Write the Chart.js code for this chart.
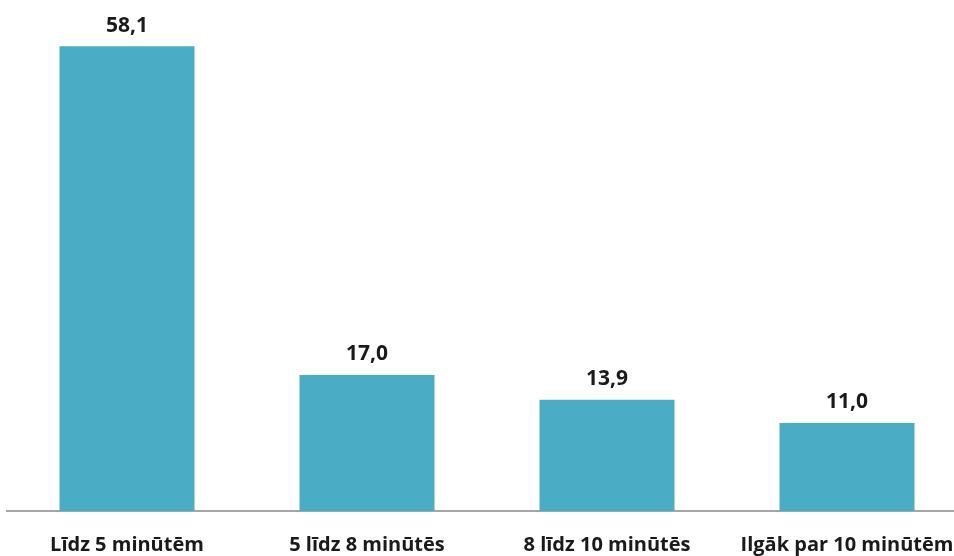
<!DOCTYPE html>
<html>
<head>
<meta charset="utf-8">
<script src="https://cdn.jsdelivr.net/npm/chart.js@4/dist/chart.umd.min.js"></script>
<style>
  html, body { margin: 0; padding: 0; background: #fff; overflow: hidden; }
  #wrap { position: relative; width: 1000px; height: 579px; }
</style>
</head>
<body>
<div id="wrap"><canvas id="chart" width="1000" height="579"></canvas></div>
<script>
'use strict';

const categories = ['Līdz 5 minūtēm', '5 līdz 8 minūtēs', '8 līdz 10 minūtēs', 'Ilgāk par 10 minūtēm'];
const values = [58.1, 17.0, 13.9, 11.0];

const fmt = (v) => v.toFixed(1).replace('.', ',');

const valueLabels = {
  id: 'valueLabels',
  afterDatasetsDraw(chart) {
    const { ctx } = chart;
    const meta = chart.getDatasetMeta(0);
    ctx.save();
    ctx.font = 'bold 21px "Open Sans", sans-serif';
    ctx.fillStyle = '#1a1a1a';
    ctx.textAlign = 'center';
    ctx.textBaseline = 'bottom';
    meta.data.forEach((bar, i) => {
      ctx.fillText(fmt(values[i]), bar.x, bar.y - 10);
    });
    ctx.restore();
  }
};

new Chart(document.getElementById('chart'), {
  type: 'bar',
  data: {
    labels: categories,
    datasets: [{
      data: values,
      backgroundColor: '#4bacc6',
      barPercentage: 0.5625,
      categoryPercentage: 1
    }]
  },
  options: {
    responsive: false,
    animation: false,
    layout: { padding: { top: 31, left: 7, right: 33, bottom: 0 } },
    plugins: { legend: { display: false }, tooltip: { enabled: false } },
    scales: {
      y: { display: false, min: 0, max: 60 },
      x: {
        grid: { display: false, drawTicks: false },
        border: { display: true, color: '#a6a6a6', width: 2 },
        ticks: {
          padding: 22,
          color: '#1a1a1a',
          maxRotation: 0,
          autoSkip: false,
          font: { family: '"Open Sans", sans-serif', size: 20, weight: 'bold' }
        }
      }
    }
  },
  plugins: [valueLabels]
});
</script>
</body>
</html>
